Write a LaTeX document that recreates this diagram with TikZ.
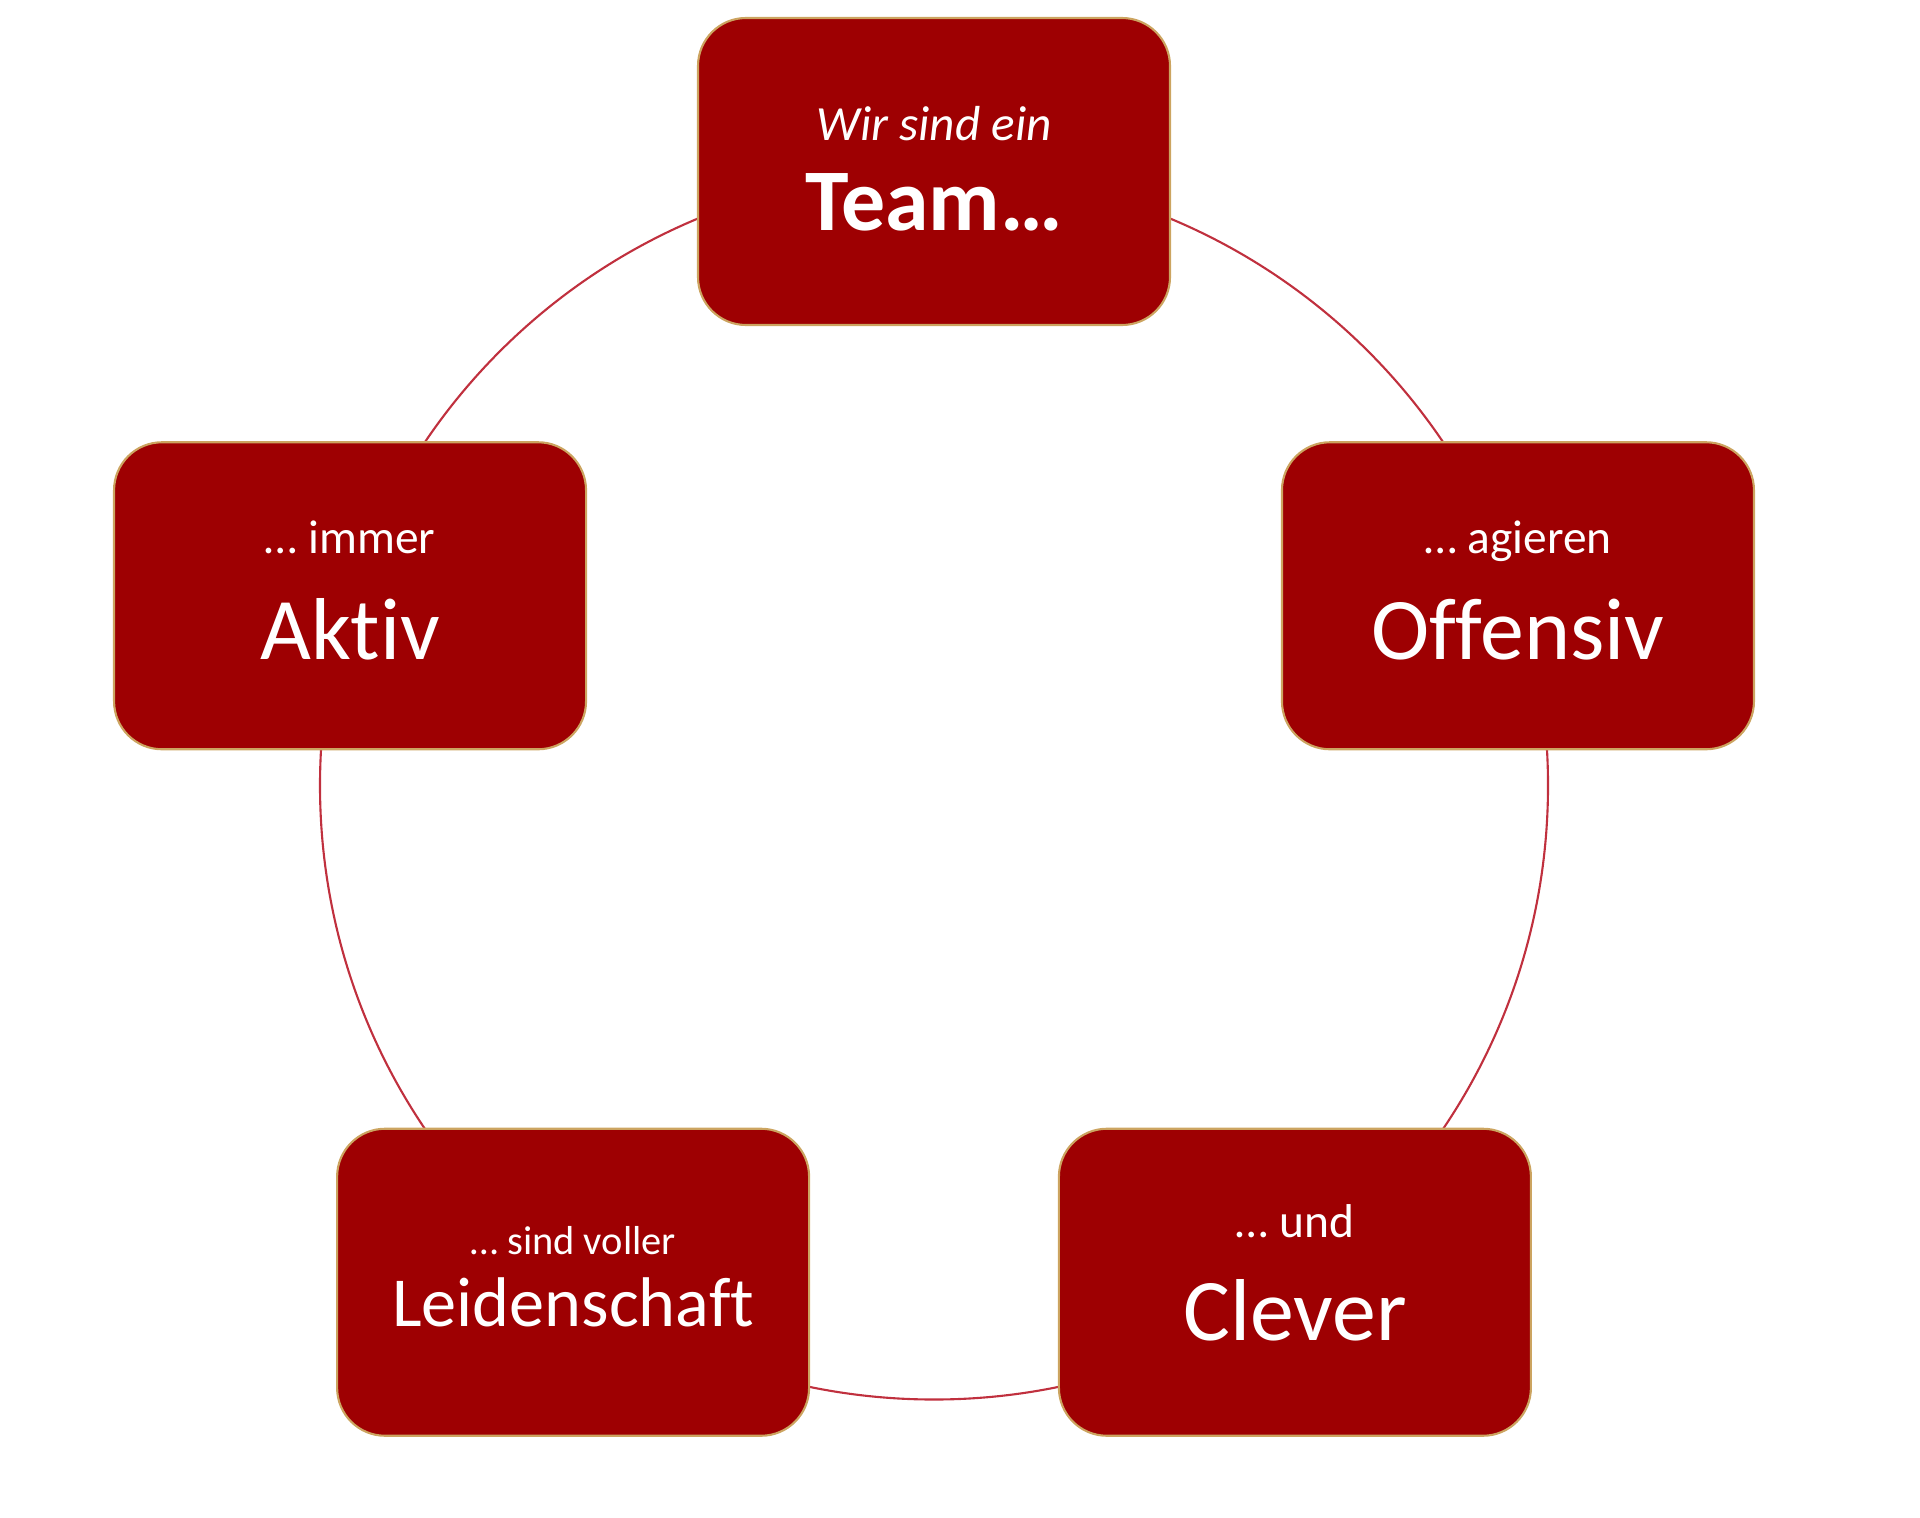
\documentclass[tikz,border=0pt]{standalone}
\usepackage{fontspec}
\setmainfont{Carlito}[Ligatures={NoCommon}]
\usetikzlibrary{positioning, calc}
\definecolor{tilered}{RGB}{158,0,2}
\definecolor{tileedge}{RGB}{204,164,96}
\definecolor{ringred}{RGB}{192,48,62}
\newcommand*{\fs}[1]{\fontsize{#1}{1.2\dimexpr#1\relax}\selectfont}
\begin{document}
\begin{tikzpicture}[
        tile/.style={rectangle, rounded corners=0.48cm, fill=tilered, draw=tileedge, line width=0.6pt,
          minimum width=4.72cm, minimum height=3.07cm, inner sep=0pt},
        lead/.style={text=white, inner sep=0pt, anchor=base},
        key/.style={text=white, inner sep=0pt, anchor=base},
        ring/.style={draw=ringred, line width=0.6pt},
        ]
        \useasboundingbox (0,0) rectangle (19.2,15.17);
        \coordinate (O) at (9.34,7.315);

        % the ring behind the tiles
        \draw[ring] (O) circle[radius=6.14cm];

        \node[tile] (team)         at ($(O)+(90:6.14)$)  {};
        \node[tile] (aktiv)        at ($(O)+(162:6.14)$) {};
        \node[tile] (leidenschaft) at ($(O)+(234:6.14)$) {};
        \node[tile] (clever)       at ($(O)+(306:6.14)$) {};
        \node[tile] (offensiv)     at ($(O)+(18:6.14)$)  {};

        \node[lead] (team-a) at ([yshift=0.305cm]team.center) {\fs{14pt}\itshape Wir sind ein};
        \node[key]  (team-b) at ([yshift=-0.595cm]team.center) {\fs{25pt}\bfseries Team…};

        \node[lead] (aktiv-a) at ([yshift=0.425cm]aktiv.center) {\fs{13.5pt}… immer};
        \node[key]  (aktiv-b) at ([yshift=-0.635cm]aktiv.center) {\fs{25pt}Aktiv};

        \node[lead] (offensiv-a) at ([yshift=0.425cm]offensiv.center) {\fs{13.5pt}… agieren};
        \node[key]  (offensiv-b) at ([yshift=-0.635cm]offensiv.center) {\fs{25pt}Offensiv};

        \node[lead] (leidenschaft-a) at ([yshift=0.28cm]leidenschaft.center) {\fs{11.5pt}… sind voller};
        \node[key]  (leidenschaft-b) at ([yshift=-0.44cm]leidenschaft.center) {\fs{20pt}Leidenschaft};

        \node[lead] (clever-a) at ([yshift=0.45cm]clever.center) {\fs{13.5pt}… und};
        \node[key]  (clever-b) at ([yshift=-0.58cm]clever.center) {\fs{25pt}Clever};
\end{tikzpicture}
\end{document}
